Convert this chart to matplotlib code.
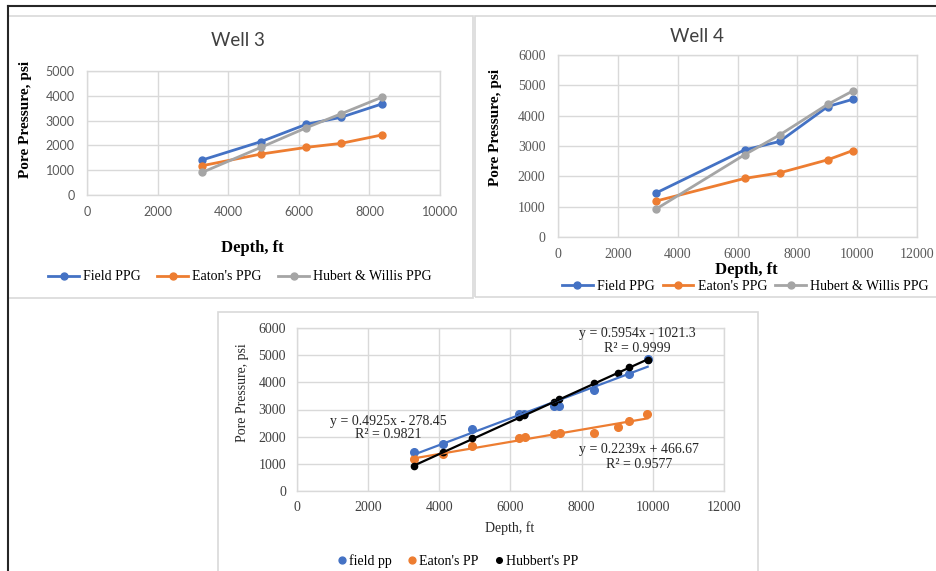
import matplotlib
matplotlib.use("Agg")
import matplotlib.pyplot as plt
from matplotlib.lines import Line2D
from matplotlib.patches import Rectangle
import numpy as np

# ---- data ----
# Well 3
w3_depth = [3260, 4925, 6210, 7190, 8350]
w3_field = [1410, 2150, 2850, 3130, 3670]
w3_eaton = [1180, 1650, 1920, 2080, 2420]
w3_hubert = [910, 1920, 2710, 3270, 3940]

# Well 4
w4_depth = [3275, 6235, 7410, 9015, 9855]
w4_field = [1450, 2870, 3150, 4300, 4540]
w4_eaton = [1185, 1930, 2115, 2545, 2850]
w4_hubert = [920, 2710, 3365, 4375, 4815]

# combined wells
all_field_x = [3280, 4100, 4920, 6240, 6370, 7210, 7370, 8350, 9330, 9855]
all_field_y = [1440, 1740, 2270, 2840, 2840, 3130, 3130, 3710, 4290, 4860]
all_eaton_x = [3280, 4090, 4920, 6240, 6400, 7210, 7380, 8350, 9015, 9330, 9845]
all_eaton_y = [1170, 1370, 1655, 1950, 1985, 2100, 2140, 2145, 2350, 2595, 2840]
all_hub_x = [3280, 4100, 4920, 6240, 6370, 7210, 7370, 8350, 9015, 9330, 9855]
all_hub_y = [910, 1430, 1935, 2730, 2805, 3290, 3380, 3990, 4355, 4575, 4820]

# trendline coefficients (slope, intercept, R2)
field_fit = (0.4925, -278.45, 0.9821)
eaton_fit = (0.2239, 466.67, 0.9577)
hub_fit = (0.5954, -1021.3, 0.9999)

series_names = ["Field PPG", "Eaton's PPG", "Hubert & Willis PPG"]
combined_names = ["field pp", "Eaton's PP", "Hubbert's PP"]

BLUE = "#4472C4"
ORANGE = "#ED7D31"
GRAY = "#A5A5A5"
GRID = "#D9D9D9"
TXT = "#595959"
SERIF = "Liberation Serif"
SANS = "Lato"

W, H = 936, 571
fig = plt.figure(figsize=(W / 100, H / 100), dpi=100)


def fx(px):
    return px / W


def fy(py):
    return 1 - py / H


def box(x0, y0, x1, y1):
    fig.patches.append(Rectangle((fx(x0), fy(y1)), (x1 - x0) / W, (y1 - y0) / H,
                                 transform=fig.transFigure, fill=False,
                                 ec=GRID, lw=1.2))


# panel frames
box(8, 16, 473, 298)
box(475, 16, 940, 297)
box(218, 312, 758, 580)
fig.add_artist(Line2D([fx(8), 1], [fy(6), fy(6)], color="#262626", lw=1.5))
fig.add_artist(Line2D([fx(8), fx(8)], [fy(6), 0], color="#262626", lw=1.5))


def style_axes(ax, xmax, ymax, step_x, step_y, tickfont, xpad, ypad):
    ax.set_xlim(0, xmax)
    ax.set_ylim(0, ymax)
    ax.set_xticks(np.arange(0, xmax + 1, step_x))
    ax.set_yticks(np.arange(0, ymax + 1, step_y))
    ax.grid(True, color=GRID, lw=1)
    ax.set_axisbelow(True)
    for s in ax.spines.values():
        s.set_color(GRID)
        s.set_linewidth(1)
    ax.tick_params(axis="x", length=0, pad=xpad, labelcolor=TXT)
    ax.tick_params(axis="y", length=0, pad=ypad, labelcolor=TXT)
    for lab in ax.get_xticklabels() + ax.get_yticklabels():
        lab.set_fontfamily(tickfont)
        lab.set_fontsize(10 if tickfont == SERIF else 9)


# ---- Well 3 ----
ax1 = fig.add_axes([fx(87), fy(195), (440 - 87) / W, (195 - 71) / H])
ax1.plot(w3_depth, w3_field, "-o", color=BLUE, lw=2, ms=5, label=series_names[0])
ax1.plot(w3_depth, w3_eaton, "-o", color=ORANGE, lw=2, ms=5, label=series_names[1])
ax1.plot(w3_depth, w3_hubert, "-o", color=GRAY, lw=2, ms=5, label=series_names[2])
style_axes(ax1, 10000, 5000, 2000, 1000, SANS, 8, 9)
fig.text(fx(238), fy(40), "Well 3", family=SANS, fontsize=13.5, color="#404040",
         ha="center", va="center")
fig.text(fx(26), fy(120), "Pore Pressure, psi", family=SERIF, fontsize=11,
         weight="bold", rotation=90, ha="center", va="center")
fig.text(fx(252), fy(248), "Depth, ft", family=SERIF, fontsize=12,
         weight="bold", ha="center", va="center")
ax1.legend(loc="center", bbox_to_anchor=(fx(240), fy(277)),
           bbox_transform=fig.transFigure, ncol=3, frameon=False,
           prop={"family": SERIF, "size": 10}, handlelength=2.2,
           columnspacing=1.2, handletextpad=0.3)

# ---- Well 4 ----
ax2 = fig.add_axes([fx(558), fy(237), (917 - 558) / W, (237 - 55) / H])
ax2.plot(w4_depth, w4_field, "-o", color=BLUE, lw=2, ms=5, label=series_names[0])
ax2.plot(w4_depth, w4_eaton, "-o", color=ORANGE, lw=2, ms=5, label=series_names[1])
ax2.plot(w4_depth, w4_hubert, "-o", color=GRAY, lw=2, ms=5, label=series_names[2])
style_axes(ax2, 12000, 6000, 2000, 1000, SERIF, 8, 9)
fig.text(fx(697), fy(37), "Well 4", family=SANS, fontsize=13.5, color="#404040",
         ha="center", va="center")
fig.text(fx(495), fy(128), "Pore Pressure, psi", family=SERIF, fontsize=11,
         weight="bold", rotation=90, ha="center", va="center")
fig.text(fx(746), fy(270), "Depth, ft", family=SERIF, fontsize=12,
         weight="bold", ha="center", va="center")
ax2.legend(loc="center left", bbox_to_anchor=(fx(562), fy(286)),
           bbox_transform=fig.transFigure, ncol=3, frameon=False,
           prop={"family": SERIF, "size": 10}, handlelength=2.2,
           columnspacing=0.6, handletextpad=0.3, borderaxespad=0, borderpad=0)

# ---- combined ----
ax3 = fig.add_axes([fx(297), fy(491), (724 - 297) / W, (491 - 328) / H])
ax3.plot(all_field_x, all_field_y, "o", color=BLUE, ms=5.5, label=combined_names[0])
ax3.plot(all_eaton_x, all_eaton_y, "o", color=ORANGE, ms=5.5, label=combined_names[1])
ax3.plot(all_hub_x, all_hub_y, "o", color="black", ms=4.5, label=combined_names[2])
for xs, fit, col in [(all_field_x, field_fit, BLUE), (all_eaton_x, eaton_fit, ORANGE),
                     (all_hub_x, hub_fit, "black")]:
    xr = np.array([min(xs), max(xs)])
    ax3.plot(xr, fit[0] * xr + fit[1], color=col, lw=1.6)
style_axes(ax3, 12000, 6000, 2000, 1000, SERIF, 7, 8)
for lab in ax3.get_xticklabels() + ax3.get_yticklabels():
    lab.set_color("#404040")


def eq_text(fit):
    sign = "-" if fit[1] < 0 else "+"
    return "y = %.4fx %s %g\nR\u00b2 = %.4f" % (fit[0], sign, abs(fit[1]), fit[2])


for fit, (px, py) in [(hub_fit, (637, 341)), (field_fit, (388, 428)),
                      (eaton_fit, (639, 457))]:
    fig.text(fx(px), fy(py), eq_text(fit), family=SERIF, fontsize=10,
             color="#262626", ha="center", va="center", linespacing=1.1)

fig.text(fx(242), fy(393), "Pore Pressure, psi", family=SERIF, fontsize=10,
         color="#262626", rotation=90, ha="center", va="center")
fig.text(fx(510), fy(528), "Depth, ft", family=SERIF, fontsize=10,
         color="#262626", ha="center", va="center")
ax3.legend(loc="center", bbox_to_anchor=(fx(458), fy(561)),
           bbox_transform=fig.transFigure, ncol=3, frameon=False,
           prop={"family": SERIF, "size": 10}, handlelength=0.6,
           columnspacing=1.2, handletextpad=0.2, markerscale=0.9,
           borderpad=0)

fig.savefig("out.png", dpi=100)
